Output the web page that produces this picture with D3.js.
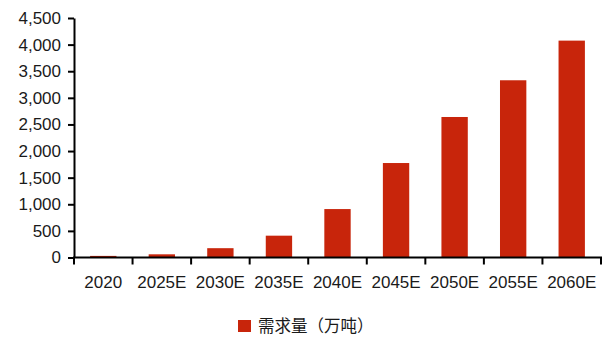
<!DOCTYPE html>
<html lang="zh">
<head>
<meta charset="UTF-8">
<title>需求量</title>
<script src="https://d3js.org/d3.v7.min.js"></script>
<style>
  body { margin: 0; background: #fff; }
  text { font-family: "Liberation Sans", Arial, sans-serif; fill: #1a1a1a; }
  .axis path, .axis line { stroke: #000; stroke-width: 2; }
</style>
</head>
<body>
<svg width="607" height="337"></svg>
<script>
  // data
  const categories = ["2020", "2025E", "2030E", "2035E", "2040E", "2045E", "2050E", "2055E", "2060E"];
  const demand = [30, 60, 175, 410, 910, 1775, 2640, 3330, 4075];
  const yTicks = [0, 500, 1000, 1500, 2000, 2500, 3000, 3500, 4000, 4500];

  const svg = d3.select("svg");
  const barColor = "#c8250b";

  const plotLeft = 74, plotRight = 601, plotTop = 18, plotBottom = 257.5;

  const x = d3.scaleBand().domain(categories).range([plotLeft, plotRight]).paddingInner(0.55).paddingOuter(0.275);
  const y = d3.scaleLinear().domain([0, 4500]).range([plotBottom, plotTop]);

  // bars
  svg.append("g").selectAll("rect")
    .data(categories)
    .join("rect")
    .attr("x", d => x(d))
    .attr("y", (d, i) => y(demand[i]))
    .attr("width", x.bandwidth())
    .attr("height", (d, i) => plotBottom - y(demand[i]))
    .attr("fill", barColor);

  // y axis
  const yAxis = svg.append("g")
    .attr("class", "axis")
    .attr("transform", `translate(${plotLeft},0)`)
    .call(d3.axisLeft(y).tickValues(yTicks).tickSize(6).tickSizeOuter(0).tickPadding(7)
      .tickFormat(d3.format(",")));
  yAxis.selectAll("text").style("font-size", "17px").attr("fill", "#1a1a1a")
    .style("font-family", "'Liberation Sans', Arial, sans-serif");

  // x axis, ticks sit between categories
  const xg = svg.append("g")
    .attr("class", "axis")
    .attr("transform", `translate(0,${plotBottom})`);
  xg.append("line").attr("x1", plotLeft - 1).attr("x2", plotRight + 1).attr("y1", 0).attr("y2", 0);
  const edges = d3.range(categories.length + 1).map(i => plotLeft + i * x.step());
  xg.selectAll("line.tk").data(edges).join("line")
    .attr("class", "tk")
    .attr("x1", d => d).attr("x2", d => d)
    .attr("y1", 0).attr("y2", 7);
  xg.selectAll("text").data(categories).join("text")
    .attr("x", d => x(d) + x.bandwidth() / 2)
    .attr("y", 30.5)
    .attr("text-anchor", "middle")
    .style("font-size", "17px")
    .text(d => d);

  // legend
  const lg = svg.append("g").attr("transform", "translate(238,320)");
  lg.append("rect").attr("width", 13).attr("height", 12).attr("fill", barColor);
  lg.append("text")
    .attr("x", 20).attr("y", 12)
    .style("font-family", "'Noto Sans CJK SC', sans-serif")
    .style("font-size", "16.5px")
    .text("需求量（万吨）");
</script>
</body>
</html>
